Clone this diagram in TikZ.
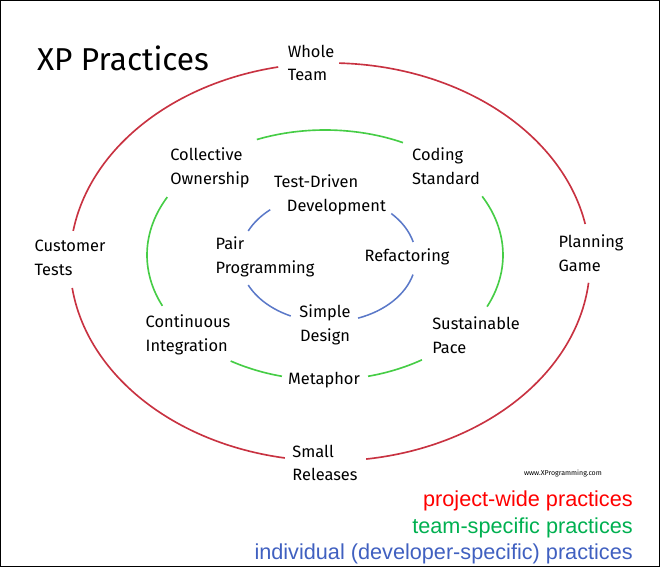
\documentclass[tikz,border=0pt]{standalone}
\usepackage{fontspec}
\setmainfont{Fira Sans}
\newfontfamily\legendfont{Liberation Sans}
\definecolor{ringred}{RGB}{200,50,65}
\definecolor{ringgreen}{RGB}{70,205,70}
\definecolor{ringblue}{RGB}{90,120,200}
\definecolor{legred}{RGB}{255,0,0}
\definecolor{leggreen}{RGB}{0,176,80}
\definecolor{legblue}{RGB}{64,96,192}
\begin{document}
\begin{tikzpicture}[x=0.03cm,y=-0.03cm,
  lbl/.style={font=\fontsize{14}{20}\selectfont, align=left, inner sep=0pt},
  lblc/.style={lbl, align=center},
  redring/.style={draw=ringred, line width=1.4pt},
  greenring/.style={draw=ringgreen, line width=1.4pt},
  bluering/.style={draw=ringblue, line width=1.3pt},
  legend/.style={font=\legendfont\fontsize{18.5}{20}\selectfont, anchor=east, inner sep=0pt}]
\useasboundingbox (0,0) rectangle (660,567);
\draw[line width=1.4pt] (0,0) rectangle (660,567);
% outer red ring
\draw[redring] (330,262) ++(272:260 and 199) arc[start angle=272,end angle=349,x radius=260,y radius=199];
\draw[redring] (330,262) ++(6:260 and 199) arc[start angle=6,end angle=82,x radius=260,y radius=199];
\draw[redring] (330,262) ++(100:260 and 199) arc[start angle=100,end angle=172.5,x radius=260,y radius=199];
\draw[redring] (330,262) ++(189:260 and 199) arc[start angle=189,end angle=258.5,x radius=260,y radius=199];
% middle green ring
\draw[greenring] (325,255) ++(247.5:178 and 125) arc[start angle=247.5,end angle=296,x radius=178,y radius=125];
\draw[greenring] (325,255) ++(332:178 and 125) arc[start angle=332,end angle=384.4,x radius=178,y radius=125];
\draw[greenring] (325,255) ++(57:178 and 125) arc[start angle=57,end angle=76,x radius=178,y radius=125];
\draw[greenring] (325,255) ++(104:178 and 125) arc[start angle=104,end angle=122,x radius=178,y radius=125];
\draw[greenring] (325,255) ++(156:178 and 125) arc[start angle=156,end angle=207.6,x radius=178,y radius=125];
% inner blue ring
\draw[bluering] (328,258) ++(316:88 and 64) arc[start angle=316,end angle=345.5,x radius=88,y radius=64];
\draw[bluering] (328,258) ++(15:88 and 64) arc[start angle=15,end angle=70,x radius=88,y radius=64];
\draw[bluering] (328,258) ++(115:88 and 64) arc[start angle=115,end angle=155,x radius=88,y radius=64];
\draw[bluering] (328,258) ++(205:88 and 64) arc[start angle=205,end angle=229,x radius=88,y radius=64];
% labels
\node[font=\fontsize{27}{30}\selectfont, inner sep=0pt] (title) at (123,58) {XP Practices};
\node[lbl] (whole) at (311,63) {Whole\\Team};
\node[lbl] (collective) at (210,168) {Collective\\Ownership};
\node[lbl] (coding) at (446,166) {Coding\\Standard};
\node[lbl] (tdd) at (330,195) {Test-Driven\\\hspace*{11pt}Development};
\node[lbl] (pair) at (265,257) {Pair\\Programming};
\node[lbl] (refactor) at (407,257) {Refactoring};
\node[lblc] (simple) at (325,325) {Simple\\Design};
\node[lbl] (customer) at (70,258) {Customer\\Tests};
\node[lbl] (planning) at (591,253) {Planning\\Game};
\node[lbl] (ci) at (188,335) {Continuous\\Integration};
\node[lbl] (sustainable) at (476,335) {Sustainable\\Pace};
\node[lbl] (metaphor) at (324,380) {Metaphor};
\node[lbl] (small) at (325,463) {Small\\Releases};
\node[font=\fontsize{6}{7}\selectfont, inner sep=0pt] (www) at (563,474) {www.XProgramming.com};
% legend
\node[legend, text=legred] (leg1) at (633,501) {project-wide practices};
\node[legend, text=leggreen] (leg2) at (633,528) {team-specific practices};
\node[legend, text=legblue] (leg3) at (633,554) {individual (developer-specific) practices};
\end{tikzpicture}
\end{document}
